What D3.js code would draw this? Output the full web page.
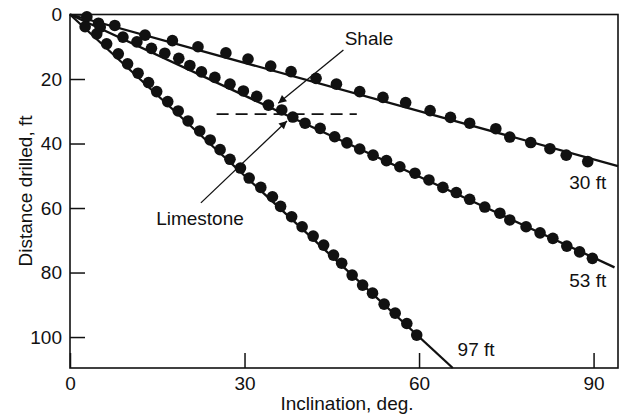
<!DOCTYPE html>
<html>
<head>
<meta charset="utf-8">
<script src="https://cdn.jsdelivr.net/npm/d3@7"></script>
<style>
  body { margin: 0; background: #fff; }
  svg text { font-family: "Liberation Sans", Arial, sans-serif; fill: #111; }
</style>
</head>
<body>
<div id="chart"></div>
<script>
// Data: inclination (deg) vs distance drilled (ft)
const dots30 = [
  [2.9, 0.7], [4.9, 2.7], [7.7, 3.4], [12.9, 6.4], [17.6, 8.1], [22.0, 10.0],
  [26.8, 11.9], [30.6, 13.8], [34.5, 16.0], [38.0, 17.7], [42.3, 19.8], [45.8, 21.6],
  [49.8, 23.9], [53.8, 25.7], [57.7, 27.3], [61.9, 29.8], [65.4, 31.9], [68.7, 33.7],
  [73.2, 35.4], [75.6, 38.0], [79.2, 39.7], [82.5, 41.6], [85.3, 43.6], [89.0, 45.6]
]
const dots53 = [
  [5.2, 3.9], [9.1, 7.0], [11.5, 8.5], [14.0, 10.5], [16.3, 12.0], [18.7, 13.6],
  [20.6, 15.8], [22.6, 17.8], [24.9, 19.5], [27.5, 21.6], [29.8, 23.7], [32.1, 25.4],
  [34.1, 28.1], [36.4, 29.6], [38.3, 31.8], [40.4, 33.7], [43.0, 35.3], [45.5, 37.9],
  [47.6, 39.8], [49.8, 41.7], [52.1, 43.6], [54.4, 45.3], [56.7, 47.2], [59.3, 49.2],
  [61.7, 51.3], [64.1, 53.6], [66.4, 55.2], [68.7, 57.3], [71.3, 59.7], [73.9, 61.6],
  [75.6, 63.7], [78.4, 65.8], [80.8, 67.7], [83.0, 69.4], [85.4, 71.8], [87.6, 73.6],
  [89.8, 75.6]
]
const dots97 = [
  [2.6, 3.8], [4.6, 6.0], [6.3, 9.1], [8.3, 12.2], [9.9, 15.3], [11.7, 18.2],
  [13.5, 21.1], [14.9, 23.9], [16.8, 27.0], [18.6, 29.9], [20.3, 33.0], [22.3, 36.1],
  [24.1, 38.9], [25.8, 41.9], [27.5, 44.9], [29.3, 47.6], [30.8, 50.7], [32.8, 53.6],
  [34.8, 56.5], [36.2, 59.5], [38.1, 62.7], [39.9, 65.8], [41.8, 68.7], [43.6, 71.5],
  [45.3, 74.6], [46.7, 77.1], [48.5, 80.8], [50.3, 83.9], [52.0, 86.4], [54.0, 89.8],
  [55.9, 92.6], [57.9, 95.8], [59.6, 99.4]
]
// fitted lines (start, end)
const line30 = [[0, 0], [94.2, 47.0]]
const line53 = [[0, 0], [93.6, 78.4]]
const line97 = [[0, 0], [65.8, 109.6]]

const seriesLabels = [
  { text: "30 ft", at: [89.0, 54.2] },
  { text: "53 ft", at: [89.0, 84.6] },
  { text: "97 ft", at: [69.8, 105.8] }
]

const xTicks = [0, 30, 60, 90]
const yTicks = [0, 20, 40, 60, 80, 100]

const width = 622
const height = 417
const margin = { top: 14.5, right: 4, bottom: 49, left: 70 }
const fontSize = 19

const svg = d3.select("#chart")
  .append("svg")
    .attr("width", width)
    .attr("height", height)

const x = d3.scaleLinear()
  .domain([0, 94.2])
  .range([margin.left, width - margin.right])

const y = d3.scaleLinear()
  .domain([0, 109.6])
  .range([margin.top, height - margin.bottom])

// axes, ticks pointing inward
svg.append("g")
  .attr("transform", `translate(0,${y(109.6)})`)
  .call(d3.axisBottom(x).tickValues(xTicks).tickSizeInner(-15).tickSizeOuter(0).tickPadding(9))
  .call(g => g.select(".domain").remove())
  .call(g => g.selectAll("line").attr("stroke", "#111").attr("stroke-width", 1.5))
  .call(g => g.selectAll("text").attr("font-size", fontSize).attr("fill", "#111"))

svg.append("g")
  .attr("transform", `translate(${x(0)},0)`)
  .call(d3.axisLeft(y).tickValues(yTicks).tickSizeInner(-15).tickSizeOuter(0).tickPadding(8))
  .call(g => g.select(".domain").remove())
  .call(g => g.selectAll("line").attr("stroke", "#111").attr("stroke-width", 1.5))
  .call(g => g.selectAll("text").attr("font-size", fontSize).attr("fill", "#111"))

// frame
svg.append("rect")
  .attr("x", x(0))
  .attr("y", y(0))
  .attr("width", x(94.2) - x(0))
  .attr("height", y(109.6) - y(0))
  .attr("fill", "none")
  .attr("stroke", "#111")
  .attr("stroke-width", 1.6)

// axis titles
svg.append("text")
  .attr("x", 347)
  .attr("y", 410)
  .attr("text-anchor", "middle")
  .attr("font-size", fontSize)
  .text("Inclination, deg.")

svg.append("text")
  .attr("x", -191)
  .attr("y", 32)
  .attr("transform", "rotate(-90)")
  .attr("text-anchor", "middle")
  .attr("font-size", fontSize)
  .text("Distance drilled, ft")

// fitted lines
const lineGen = d3.line().x(d => x(d[0])).y(d => y(d[1]))
const plot = svg.append("g")
plot.selectAll(".fit")
  .data([line30, line53, line97])
  .join("path")
    .attr("class", "fit")
    .attr("d", lineGen)
    .attr("fill", "none")
    .attr("stroke", "#111")
    .attr("stroke-width", 2.3)

// dots
plot.selectAll(".dot")
  .data([...dots30, ...dots53, ...dots97])
  .join("circle")
    .attr("class", "dot")
    .attr("cx", d => x(d[0]))
    .attr("cy", d => y(d[1]))
    .attr("r", 5.8)
    .attr("fill", "#111")

// series labels
svg.selectAll(".slabel")
  .data(seriesLabels)
  .join("text")
    .attr("class", "slabel")
    .attr("x", d => x(d.at[0]))
    .attr("y", d => y(d.at[1]))
    .attr("text-anchor", "middle")
    .attr("font-size", fontSize)
    .text(d => d.text)

// formation boundary: dashed line
svg.append("line")
  .attr("x1", x(25.2)).attr("x2", x(49.3))
  .attr("y1", y(30.9)).attr("y2", y(30.9))
  .attr("stroke", "#111")
  .attr("stroke-width", 1.8)
  .attr("stroke-dasharray", "12,7")

// arrows
svg.append("defs").append("marker")
  .attr("id", "arrow")
  .attr("viewBox", "0 0 10 10")
  .attr("refX", 10).attr("refY", 5)
  .attr("markerWidth", 10).attr("markerHeight", 8)
  .attr("markerUnits", "userSpaceOnUse")
  .attr("orient", "auto")
  .append("path")
    .attr("d", "M0,0 L10,5 L0,10 Z")
    .attr("fill", "#111")

const arrows = [
  { from: [47.0, 11.0], to: [35.8, 27.5] },
  { from: [22.5, 58.4], to: [37.3, 33.0] }
]
svg.selectAll(".arrow")
  .data(arrows)
  .join("line")
    .attr("class", "arrow")
    .attr("x1", d => x(d.from[0])).attr("y1", d => y(d.from[1]))
    .attr("x2", d => x(d.to[0])).attr("y2", d => y(d.to[1]))
    .attr("stroke", "#111")
    .attr("stroke-width", 1.3)
    .attr("marker-end", "url(#arrow)")

svg.append("text")
  .attr("x", 369).attr("y", 45)
  .attr("text-anchor", "middle")
  .attr("font-size", fontSize)
  .text("Shale")

svg.append("text")
  .attr("x", 200).attr("y", 225)
  .attr("text-anchor", "middle")
  .attr("font-size", fontSize)
  .text("Limestone")
</script>
</body>
</html>
